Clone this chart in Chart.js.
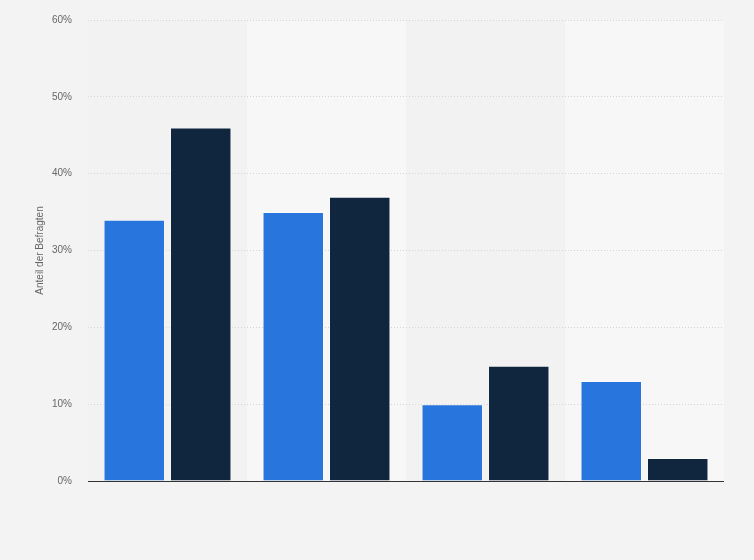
<!DOCTYPE html>
<html><head><meta charset="utf-8">
<script src="https://cdn.jsdelivr.net/npm/chart.js@4/dist/chart.umd.min.js"></script>
<style>html,body{margin:0;padding:0;background:#f3f3f3;}#wrap{width:754px;height:560px;}</style>
</head><body><div id="wrap"><canvas id="c" width="754" height="560"></canvas></div>
<script>
const categories = ["", "", "", ""];
const series1 = [34, 35, 10, 13];
const series2 = [46, 37, 15, 3];
const yTicks = [0, 10, 20, 30, 40, 50, 60];
const yTitle = "Anteil der Befragten";

const bandPlugin = {
  id: 'bands',
  beforeDraw(chart) {
    const {ctx, chartArea} = chart;
    const n = categories.length;
    const w = (chartArea.right - chartArea.left) / n;
    ctx.save();
    for (let i = 0; i < n; i++) {
      ctx.fillStyle = (i % 2 === 1) ? '#f7f7f7' : '#f2f2f2';
      ctx.fillRect(chartArea.left + i * w, chartArea.top, w, chartArea.bottom - chartArea.top);
    }
    ctx.restore();
  },
  afterDatasetsDraw(chart) {
    const {ctx, chartArea} = chart;
    ctx.save();
    ctx.strokeStyle = '#333';
    ctx.lineWidth = 1;
    ctx.beginPath();
    ctx.moveTo(chartArea.left, Math.round(chartArea.bottom) + 0.5);
    ctx.lineTo(chartArea.right, Math.round(chartArea.bottom) + 0.5);
    ctx.stroke();
    ctx.restore();
  }
};

new Chart(document.getElementById('c'), {
  type: 'bar',
  data: {
    labels: categories,
    datasets: [
      {data: series1, backgroundColor: '#2876dd', borderColor: 'rgba(255,255,255,0.4)', borderWidth: 1, categoryPercentage: 0.836, barPercentage: 0.925},
      {data: series2, backgroundColor: '#0f263e', borderColor: 'rgba(255,255,255,0.4)', borderWidth: 1, categoryPercentage: 0.836, barPercentage: 0.925}
    ]
  },
  options: {
    responsive: false,
    animation: false,
    devicePixelRatio: 1,
    layout: {padding: {left: 0, right: 30, top: 20, bottom: 0}},
    plugins: {legend: {display: false}, tooltip: {enabled: false}},
    scales: {
      x: {
        grid: {display: false, drawTicks: false},
        border: {display: false},
        ticks: {display: false},
        afterFit(s) { s.height = 79; }
      },
      y: {
        min: 0, max: 60,
        afterBuildTicks(s) { s.ticks = yTicks.map(v => ({value: v})); },
        afterFit(s) { s.width = 88; s.paddingTop = 0; s.paddingBottom = 0; },
        border: {display: false, dash: [1, 2]},
        grid: {color: '#d4d4d4', drawTicks: false, lineWidth: 1},
        ticks: {
          padding: 16,
          color: '#666',
          font: {family: 'Arial, "Liberation Sans", sans-serif', size: 10},
          callback: v => v + '%'
        },
        title: {
          display: true,
          text: yTitle,
          color: '#666',
          font: {family: 'Arial, "Liberation Sans", sans-serif', size: 10},
          padding: {top: 34, bottom: 0}
        }
      }
    }
  },
  plugins: [bandPlugin]
});
</script></body></html>
